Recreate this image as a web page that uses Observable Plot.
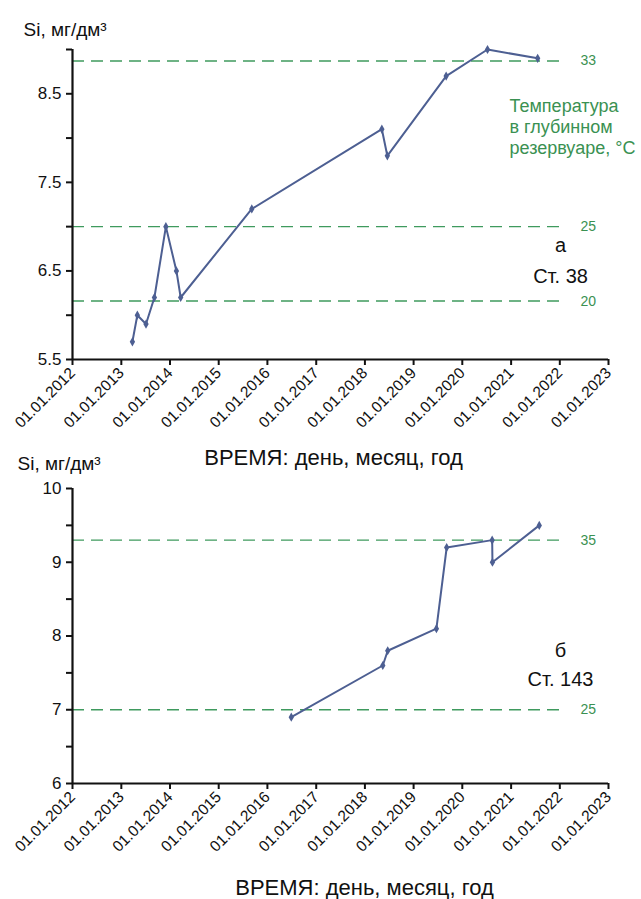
<!DOCTYPE html>
<html>
<head>
<meta charset="utf-8">
<script src="https://cdn.jsdelivr.net/npm/d3@7"></script>
<script src="https://cdn.jsdelivr.net/npm/@observablehq/plot@0.6"></script>
<style>
  body { margin: 0; background: #fff; font-family: "Liberation Sans", Arial, sans-serif; }
  #wrap { position: relative; width: 641px; height: 899px; overflow: hidden; }
  #st38, #st143 { position: absolute; left: 0; }
  #st38 { top: 0; }
  #st143 { top: 440px; }
</style>
</head>
<body>
<div id="wrap">
  <div id="st38"></div>
  <div id="st143"></div>
</div>
<script>
// Silicon concentration, station 38
const datesSt38 = ["2013-03-25", "2013-05-01", "2013-07-05", "2013-09-06", "2013-12-01", "2014-02-18",
                   "2014-03-22", "2015-09-06", "2018-05-08", "2018-06-18", "2019-09-02", "2020-07-08", "2021-07-19"];
const siSt38 = [5.7, 6.0, 5.9, 6.2, 7.0, 6.5, 6.2, 7.2, 8.1, 7.8, 8.7, 9.0, 8.9];

// Silicon concentration, station 143
const datesSt143 = ["2016-06-28", "2018-05-15", "2018-06-21", "2019-06-21", "2019-09-06",
                    "2020-08-12", "2020-08-14", "2021-07-31"];
const siSt143 = [6.9, 7.6, 7.8, 8.1, 9.2, 9.3, 9.0, 9.5];

// Deep-reservoir temperature levels (°C) and the Si value they correspond to
const tempSt38 = ["33", "25", "20"];
const tempSiSt38 = [8.87, 7.0, 6.16];
const tempSt143 = ["35", "25"];
const tempSiSt143 = [9.3, 7.0];

// Axis ticks
const yTicksSt38 = [5.5, 6.0, 6.5, 7.0, 7.5, 8.0, 8.5, 9.0];
const yLabelsSt38 = [5.5, 6.5, 7.5, 8.5];
const yTicksSt143 = [6, 6.5, 7, 7.5, 8, 8.5, 9, 9.5, 10];
const yLabelsSt143 = [6, 7, 8, 9, 10];
const xTickYears = [2012, 2013, 2014, 2015, 2016, 2017, 2018, 2019, 2020, 2021, 2022, 2023];

const xLabel = "ВРЕМЯ: день, месяц, год";
const yLabel = "Si, мг/дм³";
const tempNote = "Температура\nв глубинном\nрезервуаре, °C";

const BLUE = "#4d5f92";
const GREEN = "#3f9a5e";
const GREEN_TEXT = "#3a9152";
const FONT = "Liberation Sans, Arial, sans-serif";

const xStart = new Date(Date.UTC(2012, 0, 1));
const xEnd = new Date(Date.UTC(2023, 0, 1));
const refEnd = new Date(Date.UTC(2022, 0, 28));
const xTicks = xTickYears.map(y => new Date(Date.UTC(y, 0, 1)));
const fmtDate = d3.utcFormat("%d.%m.%Y");

function panel({dates, si, temps, tempSi, yDomain, yTicks, yLabels, height, marginTop, marginBottom,
                letter, station, letterDy, stationDy, labelDx, labelShift, siPos, note}) {
  const rows = dates.map((d, i) => ({date: new Date(d + "T00:00:00Z"), si: si[i]}));
  const refs = temps.map((t, i) => ({t, y: tempSi[i]}));
  const marks = [
    Plot.ruleY(refs, {y: "y", x1: () => xStart, x2: () => refEnd, stroke: GREEN,
                      strokeWidth: 1.4, strokeDasharray: "12,7"}),
    Plot.text(refs, {x: () => refEnd, y: "y", text: "t", dx: 17, textAnchor: "start",
                     fill: GREEN_TEXT, fontSize: 14}),
    Plot.line(rows, {x: "date", y: "si", stroke: BLUE, strokeWidth: 2}),
    Plot.dot(rows, {x: "date", y: "si", symbol: "diamond", r: 2.8, fill: BLUE, stroke: null}),
    Plot.axisY({ticks: yTicks, tickSize: 6, tickPadding: 5, strokeWidth: 2, fontSize: 17,
                tickFormat: v => yLabels.includes(v) ? String(v) : "", label: null}),
    Plot.axisX({ticks: xTicks, tickSize: 6, tickPadding: 5, strokeWidth: 2, fontSize: 15.5,
                tickRotate: -45, tickFormat: fmtDate, label: null}),
    Plot.ruleX([xStart], {strokeWidth: 2.2}),
    Plot.ruleY([yDomain[0]], {strokeWidth: 2.2}),
    Plot.text([yLabel], {frameAnchor: "top-left", dx: siPos[0], dy: siPos[1], textAnchor: "start",
                         lineAnchor: "middle", fontSize: 19, fill: "#111"}),
    Plot.text([xLabel], {frameAnchor: "bottom", dx: labelDx, dy: labelShift, lineAnchor: "middle",
                         fontSize: 22, fill: "#111"}),
    Plot.text([letter], {frameAnchor: "top-right", dx: -48, dy: letterDy, textAnchor: "middle",
                         lineAnchor: "middle", fontSize: 20, fill: "#111"}),
    Plot.text([station], {frameAnchor: "top-right", dx: -48, dy: stationDy, textAnchor: "middle",
                          lineAnchor: "middle", fontSize: 20, fill: "#111"})
  ];
  if (note) {
    marks.push(Plot.text([note], {frameAnchor: "top-right", dx: -99, dy: 77, textAnchor: "start",
                                  lineAnchor: "middle", lineHeight: 1.17, fontSize: 18, fill: GREEN_TEXT}));
  }
  const svg = Plot.plot({
    width: 641,
    height,
    marginLeft: 72,
    marginRight: 33,
    marginTop,
    marginBottom,
    style: {fontFamily: FONT, background: "transparent", overflow: "visible", color: "#111"},
    x: {type: "utc", domain: [xStart, xEnd]},
    y: {domain: yDomain},
    marks
  });
  // make sure the tick labels use the larger type
  svg.querySelectorAll('[aria-label="y-axis tick label"]').forEach(g => g.setAttribute("font-size", 17));
  svg.querySelectorAll('[aria-label="x-axis tick label"]').forEach(g => g.setAttribute("font-size", 15.5));
  return svg;
}

document.getElementById("st38").append(panel({
  dates: datesSt38, si: siSt38, temps: tempSt38, tempSi: tempSiSt38,
  yDomain: [5.5, 9.0], yTicks: yTicksSt38, yLabels: yLabelsSt38,
  height: 470, marginTop: 49, marginBottom: 111,
  letter: "а", station: "Ст. 38", letterDy: 196, stationDy: 227,
  labelDx: -7, labelShift: 98, siPos: [-49, -20], note: tempNote
}));

document.getElementById("st143").append(panel({
  dates: datesSt143, si: siSt143, temps: tempSt143, tempSi: tempSiSt143,
  yDomain: [6, 10], yTicks: yTicksSt143, yLabels: yLabelsSt143,
  height: 459, marginTop: 48, marginBottom: 116,
  letter: "б", station: "Ст. 143", letterDy: 162, stationDy: 191,
  labelDx: 24, labelShift: 104, siPos: [-55, -25], note: null
}));
</script>
</body>
</html>
